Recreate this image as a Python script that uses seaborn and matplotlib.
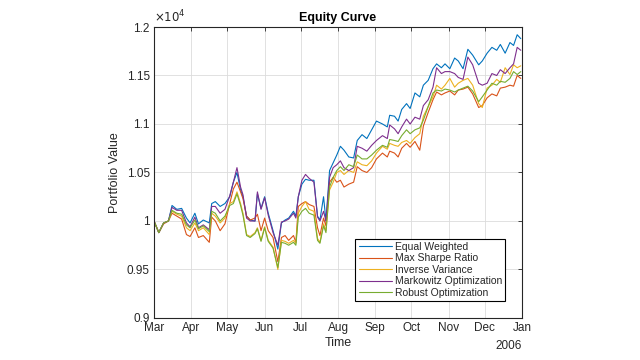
import numpy as np
import pandas as pd
import matplotlib
matplotlib.use("Agg")
import matplotlib.pyplot as plt
import seaborn as sns

# ---- data (values in units of 10^4) ----
days = [0, 4, 8, 12, 15, 19, 23, 27, 30, 34, 37, 41, 46, 48, 51, 55, 59, 63, 66, 69,
        72, 74, 77, 80, 84, 86, 89, 92, 95, 99, 103, 106, 109, 112, 116, 118, 120, 123, 126, 129,
        133, 136, 138, 141, 143, 146, 149, 152, 155, 158, 162, 166, 169, 173, 177, 181, 185, 190, 194, 196,
        200, 203, 206, 210, 213, 217, 221, 224, 228, 232, 235, 239, 242, 246, 250, 253, 257, 261, 265, 270,
        273, 277, 281, 285, 288, 292, 296, 299, 302, 305]

equal_weighted = [1.000, 0.988, 0.998, 1.000, 1.016, 1.012, 1.013, 1.003, 0.998, 1.008, 0.997, 1.001, 0.998, 1.018, 1.020, 1.015, 1.018, 1.025, 1.040, 1.050,
                  1.032, 1.025, 1.005, 1.001, 1.000, 1.028, 1.013, 1.025, 1.008, 0.990, 0.971, 0.998, 1.001, 1.003, 1.010, 1.005, 1.025, 1.038, 1.043, 1.042,
                  1.042, 1.005, 1.001, 1.025, 1.000, 1.052, 1.060, 1.068, 1.077, 1.073, 1.066, 1.065, 1.083, 1.089, 1.085, 1.094, 1.103, 1.100, 1.097, 1.109,
                  1.108, 1.103, 1.115, 1.121, 1.116, 1.132, 1.128, 1.140, 1.145, 1.157, 1.162, 1.158, 1.162, 1.157, 1.168, 1.165, 1.157, 1.177, 1.171, 1.161,
                  1.165, 1.173, 1.179, 1.176, 1.182, 1.173, 1.184, 1.181, 1.192, 1.188]
max_sharpe = [1.000, 0.988, 0.997, 1.000, 1.008, 1.005, 1.002, 0.986, 0.984, 0.993, 0.983, 0.985, 0.978, 1.004, 1.000, 0.990, 0.997, 1.018, 1.033, 1.040,
              1.030, 1.023, 1.005, 1.001, 1.003, 1.007, 0.990, 1.003, 0.990, 0.983, 0.958, 0.983, 0.985, 0.980, 0.985, 0.978, 1.015, 1.018, 1.020, 1.017,
              1.015, 0.993, 0.985, 1.003, 0.995, 1.040, 1.045, 1.040, 1.042, 1.035, 1.038, 1.040, 1.056, 1.052, 1.050, 1.055, 1.064, 1.070, 1.066, 1.072,
              1.070, 1.066, 1.075, 1.080, 1.076, 1.082, 1.073, 1.098, 1.112, 1.125, 1.133, 1.130, 1.132, 1.134, 1.130, 1.135, 1.136, 1.138, 1.131, 1.117,
              1.119, 1.127, 1.131, 1.129, 1.137, 1.138, 1.140, 1.139, 1.150, 1.147]
inverse_variance = [1.000, 0.988, 0.998, 1.000, 1.010, 1.007, 1.005, 0.993, 0.990, 0.998, 0.990, 0.993, 0.986, 1.008, 1.005, 0.998, 1.003, 1.018, 1.020, 1.030,
                    1.018, 1.008, 0.986, 0.984, 0.988, 0.993, 0.980, 0.994, 0.980, 0.973, 0.950, 0.980, 0.979, 0.977, 0.980, 0.977, 1.008, 1.015, 1.020, 1.012,
                    1.010, 0.982, 0.978, 0.997, 0.990, 1.032, 1.040, 1.050, 1.052, 1.048, 1.052, 1.050, 1.061, 1.058, 1.057, 1.062, 1.070, 1.077, 1.074, 1.080,
                    1.078, 1.077, 1.081, 1.083, 1.080, 1.086, 1.090, 1.108, 1.118, 1.128, 1.140, 1.136, 1.140, 1.147, 1.138, 1.142, 1.145, 1.147, 1.140, 1.121,
                    1.117, 1.137, 1.140, 1.146, 1.143, 1.158, 1.151, 1.161, 1.158, 1.160]
markowitz = [1.000, 0.988, 0.998, 1.000, 1.014, 1.011, 1.011, 0.998, 0.994, 1.004, 0.993, 0.996, 0.991, 1.015, 1.015, 1.008, 1.012, 1.026, 1.040, 1.055,
             1.035, 1.027, 1.003, 1.000, 1.000, 1.030, 1.012, 1.024, 1.006, 0.988, 0.975, 0.999, 1.000, 1.002, 1.008, 1.003, 1.025, 1.042, 1.048, 1.044,
             1.040, 1.004, 1.000, 1.010, 1.000, 1.045, 1.055, 1.058, 1.062, 1.055, 1.052, 1.055, 1.077, 1.075, 1.072, 1.078, 1.083, 1.088, 1.085, 1.099,
             1.095, 1.090, 1.097, 1.105, 1.100, 1.107, 1.105, 1.119, 1.125, 1.138, 1.158, 1.152, 1.154, 1.154, 1.152, 1.148, 1.146, 1.169, 1.161, 1.142,
             1.140, 1.142, 1.152, 1.150, 1.156, 1.152, 1.158, 1.162, 1.179, 1.176]
robust = [1.000, 0.988, 0.998, 1.000, 1.011, 1.008, 1.007, 0.996, 0.993, 1.001, 0.992, 0.995, 0.989, 1.010, 1.008, 1.000, 1.005, 1.016, 1.018, 1.028,
          1.016, 1.006, 0.985, 0.983, 0.987, 0.992, 0.979, 0.993, 0.979, 0.972, 0.952, 0.978, 0.977, 0.975, 0.978, 0.975, 1.004, 1.010, 1.013, 1.008,
          1.006, 0.980, 0.977, 0.995, 0.988, 1.035, 1.045, 1.052, 1.056, 1.052, 1.058, 1.056, 1.068, 1.064, 1.064, 1.068, 1.073, 1.078, 1.076, 1.084,
          1.083, 1.082, 1.088, 1.094, 1.090, 1.094, 1.096, 1.104, 1.118, 1.132, 1.135, 1.134, 1.136, 1.135, 1.133, 1.135, 1.137, 1.139, 1.134, 1.123,
          1.128, 1.135, 1.142, 1.140, 1.144, 1.143, 1.147, 1.154, 1.151, 1.154]

series_names = ["Equal Weighted", "Max Sharpe Ratio", "Inverse Variance",
                "Markowitz Optimization", "Robust Optimization"]
series_values = [equal_weighted, max_sharpe, inverse_variance, markowitz, robust]
colors = ["#0072BD", "#D95319", "#EDB120", "#7E2F8E", "#77AC30"]
month_labels = ["Mar", "Apr", "May", "Jun", "Jul", "Aug", "Sep", "Oct", "Nov", "Dec", "Jan"]
ytick_vals = [0.9, 0.95, 1.0, 1.05, 1.1, 1.15, 1.2]

start = pd.Timestamp("2005-03-01")
dates = [start + pd.Timedelta(days=d) for d in days]
rows = []
for name, vals in zip(series_names, series_values):
    for dt, v in zip(dates, vals):
        rows.append({"Time": dt, "Value": v * 1e4, "Strategy": name})
df = pd.DataFrame(rows)

sns.set_style("white")
plt.rcParams["font.family"] = ["Liberation Sans", "DejaVu Sans"]

fig = plt.figure(figsize=(6.4, 3.6), dpi=100)
ax = fig.add_axes([0.2406, 0.1167, 0.575, 0.8083])

sns.lineplot(data=df, x="Time", y="Value", hue="Strategy", hue_order=series_names,
             palette=colors, linewidth=0.8, ax=ax, legend=True)

ax.set_xlim(pd.Timestamp("2005-03-01"), pd.Timestamp("2006-01-01"))
ax.set_ylim(9000, 12000)
month_ticks = pd.date_range("2005-03-01", "2006-01-01", freq="MS")
ax.set_xticks(month_ticks)
ax.set_xticklabels(month_labels)
ax.set_yticks([v * 1e4 for v in ytick_vals])
ax.set_yticklabels([f"{v:g}" for v in ytick_vals])

tc = "#262626"
ax.tick_params(axis="both", which="both", direction="in", length=3, width=0.6,
               top=True, right=True, labelsize=8.5, colors=tc, labelcolor=tc, pad=3)
ax.grid(True, color="#dcdcdc", linewidth=0.6)
for s in ax.spines.values():
    s.set_color(tc)
    s.set_linewidth(0.8)
    s.set_visible(True)

ax.set_title("Equity Curve", fontsize=9, fontweight="bold", color="black", pad=4)
ax.set_xlabel("Time", fontsize=9, color=tc, labelpad=2)
ax.set_ylabel("Portfolio Value", fontsize=9, color=tc, labelpad=4)
ax.text(0.0, 1.005, r"$\times10^{4}$", transform=ax.transAxes, fontsize=8.5,
        color=tc, ha="left", va="bottom")
ax.text(1.0, -0.075, "2006", transform=ax.transAxes, fontsize=8.5, color=tc,
        ha="right", va="top")

leg = ax.legend(loc="lower right", bbox_to_anchor=(0.969, 0.04), fontsize=7.5,
                frameon=True, fancybox=False, edgecolor="black", framealpha=1,
                borderpad=0.3, labelspacing=0.15, handlelength=3.2, handletextpad=0.3)
leg.get_frame().set_linewidth(0.8)
for line in leg.get_lines():
    line.set_linewidth(0.8)

fig.savefig("out.png", dpi=100, facecolor="white")
